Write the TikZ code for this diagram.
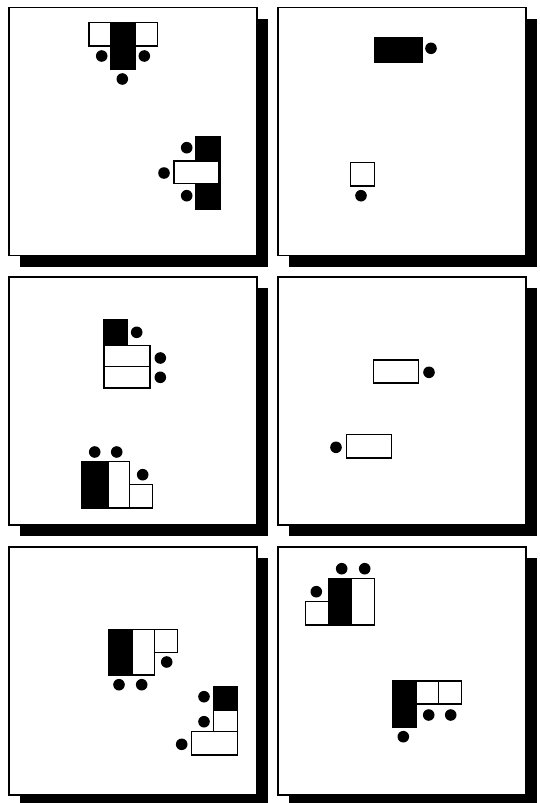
\documentclass[tikz,border=0pt]{standalone}
\begin{document}
\begin{tikzpicture}[x=1pt,y=-1pt,
  shadowbox/.style={fill=black},
  panelbox/.style={draw=black,fill=white,line width=1.5pt},
  darkbox/.style={draw=black,fill=black,line width=1.5pt},
  lightbox/.style={draw=black,fill=white,line width=1.5pt},
  seat/.style={fill=black}]
\useasboundingbox[fill=white] (0,0) rectangle (539,803);
% panels with shadows
\foreach \px/\py in {9/7.5,278/7.5,9/277,278/277,9/547,278/547}{
  \fill[shadowbox] (\px+10.5,\py+11) rectangle (\px+259,\py+259);
  \draw[panelbox] (\px,\py) rectangle (\px+248,\py+248);
}
% ---- panel 1
\draw[lightbox] (89,22.7) rectangle (111,46);
\draw[lightbox] (135.7,22.7) rectangle (157.7,46);
\draw[darkbox] (111,22.7) rectangle (135.7,69);
\fill[seat] (101.7,56) circle (5.8);
\fill[seat] (144.3,56) circle (5.8);
\fill[seat] (122.3,79) circle (5.8);
\draw[darkbox] (196,136.7) rectangle (220.3,209);
\draw[lightbox] (174,161) rectangle (219,183.3);
\fill[seat] (186.7,147.7) circle (5.8);
\fill[seat] (164,173) circle (5.8);
\fill[seat] (186.7,195.7) circle (5.8);
% ---- panel 2
\draw[darkbox] (375,37.5) rectangle (422.3,62);
\fill[seat] (431,48.3) circle (5.8);
\draw[lightbox] (350.5,162.5) rectangle (374.3,186);
\fill[seat] (361,195.7) circle (5.8);
% ---- panel 3
\draw[darkbox] (104,319.3) rectangle (127.7,345.7);
\fill[seat] (136.7,332.3) circle (5.8);
\draw[lightbox] (104,345.7) rectangle (150,366.3);
\draw[lightbox] (104,366.3) rectangle (150,388);
\fill[seat] (160.3,358) circle (5.8);
\fill[seat] (160.3,377.3) circle (5.8);
\draw[darkbox] (81.3,461.5) rectangle (108.3,508);
\draw[lightbox] (108.3,461.5) rectangle (129.3,508);
\draw[lightbox] (129.3,484.7) rectangle (152.7,508);
\fill[seat] (94.7,452) circle (5.8);
\fill[seat] (116.7,452) circle (5.8);
\fill[seat] (142.7,474.7) circle (5.8);
% ---- panel 4
\draw[lightbox] (373.3,360) rectangle (418.7,383);
\fill[seat] (429,372.3) circle (5.8);
\draw[lightbox] (346.3,434.3) rectangle (391.7,458);
\fill[seat] (336,447.3) circle (5.8);
% ---- panel 5
\draw[darkbox] (108.7,629.3) rectangle (132.7,675);
\draw[lightbox] (132.7,629.3) rectangle (154.3,675);
\draw[lightbox] (154.3,629.3) rectangle (177.3,652.7);
\fill[seat] (166.7,662) circle (5.8);
\fill[seat] (119,684.7) circle (5.8);
\fill[seat] (141.7,684.7) circle (5.8);
\draw[darkbox] (213.7,686.3) rectangle (237.5,710);
\draw[lightbox] (213.7,710) rectangle (237.5,731.7);
\draw[lightbox] (191.3,731.7) rectangle (237.5,755);
\fill[seat] (204,696.7) circle (5.8);
\fill[seat] (204,721.7) circle (5.8);
\fill[seat] (181.7,744.3) circle (5.8);
% ---- panel 6
\draw[lightbox] (305.3,601.3) rectangle (328.3,625);
\draw[darkbox] (328.3,578.5) rectangle (351.7,625);
\draw[lightbox] (351.7,578.5) rectangle (374.3,625);
\fill[seat] (316.3,591.7) circle (5.8);
\fill[seat] (341.7,568.7) circle (5.8);
\fill[seat] (364.7,568.7) circle (5.8);
\draw[darkbox] (392.5,681) rectangle (416.7,727.7);
\draw[lightbox] (416.7,681) rectangle (438.7,704);
\draw[lightbox] (438.7,681) rectangle (461.3,704);
\fill[seat] (428.7,715) circle (5.8);
\fill[seat] (450.7,715) circle (5.8);
\fill[seat] (403.3,736.7) circle (5.8);
\end{tikzpicture}
\end{document}
